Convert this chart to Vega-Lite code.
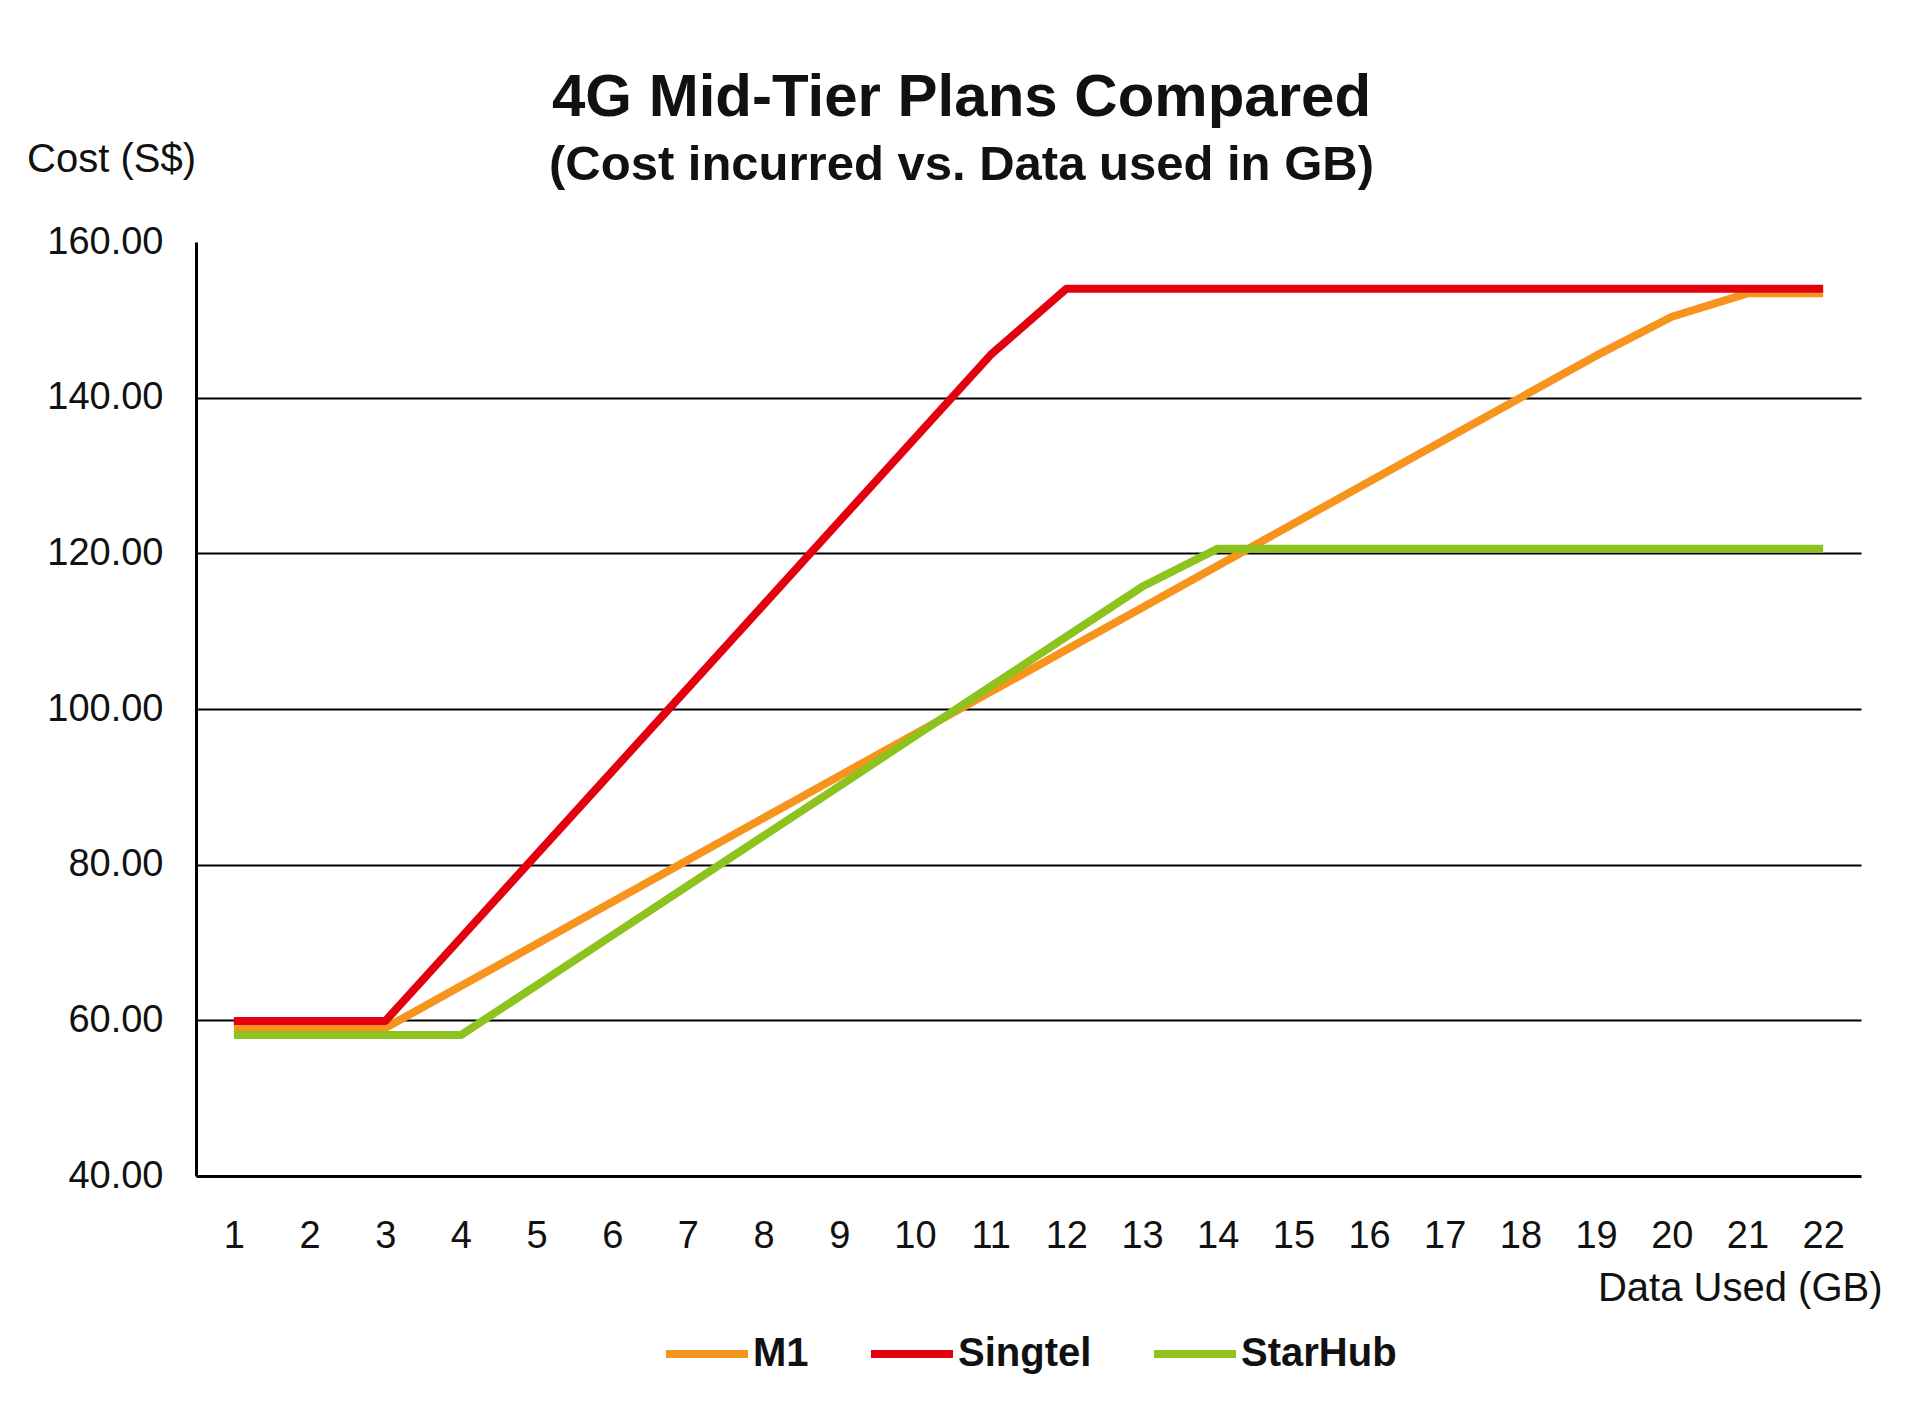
{
  "$schema": "https://vega.github.io/schema/vega-lite/v6.json",
  "width": 1665,
  "height": 934,
  "autosize": {"type": "none"},
  "padding": {"left": 196, "top": 242, "right": 59, "bottom": 240},
  "background": "white",
  "config": {"view": {"stroke": null}, "font": "Liberation Sans"},
  "title": {
    "text": "4G Mid-Tier Plans Compared",
    "subtitle": "(Cost incurred vs. Data used in GB)",
    "font": "Liberation Sans",
    "fontSize": 60,
    "fontWeight": "bold",
    "color": "#111111",
    "subtitleFont": "Liberation Sans",
    "subtitleFontSize": 49,
    "subtitleFontWeight": "bold",
    "subtitleColor": "#111111",
    "subtitlePadding": 12,
    "anchor": "middle",
    "frame": "group",
    "dx": -67,
    "offset": -52
  },
  "data": {
    "values": [
      {"gb": 1, "plan": "M1", "cost": 59.0},
      {"gb": 2, "plan": "M1", "cost": 59.0},
      {"gb": 3, "plan": "M1", "cost": 59.0},
      {"gb": 4, "plan": "M1", "cost": 64.4},
      {"gb": 5, "plan": "M1", "cost": 69.8},
      {"gb": 6, "plan": "M1", "cost": 75.2},
      {"gb": 7, "plan": "M1", "cost": 80.6},
      {"gb": 8, "plan": "M1", "cost": 86.0},
      {"gb": 9, "plan": "M1", "cost": 91.4},
      {"gb": 10, "plan": "M1", "cost": 96.8},
      {"gb": 11, "plan": "M1", "cost": 102.2},
      {"gb": 12, "plan": "M1", "cost": 107.6},
      {"gb": 13, "plan": "M1", "cost": 113.0},
      {"gb": 14, "plan": "M1", "cost": 118.4},
      {"gb": 15, "plan": "M1", "cost": 123.8},
      {"gb": 16, "plan": "M1", "cost": 129.2},
      {"gb": 17, "plan": "M1", "cost": 134.6},
      {"gb": 18, "plan": "M1", "cost": 140.0},
      {"gb": 19, "plan": "M1", "cost": 145.4},
      {"gb": 20, "plan": "M1", "cost": 150.4},
      {"gb": 21, "plan": "M1", "cost": 153.4},
      {"gb": 22, "plan": "M1", "cost": 153.4},
      {"gb": 1, "plan": "Singtel", "cost": 59.9},
      {"gb": 2, "plan": "Singtel", "cost": 59.9},
      {"gb": 3, "plan": "Singtel", "cost": 59.9},
      {"gb": 4, "plan": "Singtel", "cost": 70.6},
      {"gb": 5, "plan": "Singtel", "cost": 81.3},
      {"gb": 6, "plan": "Singtel", "cost": 92.0},
      {"gb": 7, "plan": "Singtel", "cost": 102.7},
      {"gb": 8, "plan": "Singtel", "cost": 113.4},
      {"gb": 9, "plan": "Singtel", "cost": 124.1},
      {"gb": 10, "plan": "Singtel", "cost": 134.8},
      {"gb": 11, "plan": "Singtel", "cost": 145.5},
      {"gb": 12, "plan": "Singtel", "cost": 154.0},
      {"gb": 13, "plan": "Singtel", "cost": 154.0},
      {"gb": 14, "plan": "Singtel", "cost": 154.0},
      {"gb": 15, "plan": "Singtel", "cost": 154.0},
      {"gb": 16, "plan": "Singtel", "cost": 154.0},
      {"gb": 17, "plan": "Singtel", "cost": 154.0},
      {"gb": 18, "plan": "Singtel", "cost": 154.0},
      {"gb": 19, "plan": "Singtel", "cost": 154.0},
      {"gb": 20, "plan": "Singtel", "cost": 154.0},
      {"gb": 21, "plan": "Singtel", "cost": 154.0},
      {"gb": 22, "plan": "Singtel", "cost": 154.0},
      {"gb": 1, "plan": "StarHub", "cost": 58.1},
      {"gb": 2, "plan": "StarHub", "cost": 58.1},
      {"gb": 3, "plan": "StarHub", "cost": 58.1},
      {"gb": 4, "plan": "StarHub", "cost": 58.1},
      {"gb": 5, "plan": "StarHub", "cost": 64.5},
      {"gb": 6, "plan": "StarHub", "cost": 70.9},
      {"gb": 7, "plan": "StarHub", "cost": 77.3},
      {"gb": 8, "plan": "StarHub", "cost": 83.7},
      {"gb": 9, "plan": "StarHub", "cost": 90.1},
      {"gb": 10, "plan": "StarHub", "cost": 96.5},
      {"gb": 11, "plan": "StarHub", "cost": 102.9},
      {"gb": 12, "plan": "StarHub", "cost": 109.3},
      {"gb": 13, "plan": "StarHub", "cost": 115.7},
      {"gb": 14, "plan": "StarHub", "cost": 120.6},
      {"gb": 15, "plan": "StarHub", "cost": 120.6},
      {"gb": 16, "plan": "StarHub", "cost": 120.6},
      {"gb": 17, "plan": "StarHub", "cost": 120.6},
      {"gb": 18, "plan": "StarHub", "cost": 120.6},
      {"gb": 19, "plan": "StarHub", "cost": 120.6},
      {"gb": 20, "plan": "StarHub", "cost": 120.6},
      {"gb": 21, "plan": "StarHub", "cost": 120.6},
      {"gb": 22, "plan": "StarHub", "cost": 120.6}
    ]
  },
  "mark": {"type": "line", "strokeWidth": 8, "strokeJoin": "round"},
  "encoding": {
    "x": {
      "field": "gb",
      "type": "quantitative",
      "scale": {"domain": [0.5, 22.5], "nice": false, "zero": false},
      "axis": {
        "title": "Data Used (GB)",
        "values": [1,2,3,4,5,6,7,8,9,10,11,12,13,14,15,16,17,18,19,20,21,22],
        "format": "d",
        "grid": false,
        "ticks": false,
        "tickSize": 0,
        "domainColor": "black",
        "domainWidth": 3,
        "labelFont": "Liberation Sans",
        "labelFontSize": 38,
        "labelColor": "#111111",
        "labelBaseline": "middle",
        "labelPadding": 60,
        "labelFlush": false,
        "labelOverlap": false,
        "titleFont": "Liberation Sans",
        "titleFontSize": 40,
        "titleFontWeight": "normal",
        "titleColor": "#111111",
        "titleAlign": "right",
        "titleBaseline": "middle",
        "titleX": 1686,
        "titleY": 112
      }
    },
    "y": {
      "field": "cost",
      "type": "quantitative",
      "scale": {"domain": [40, 160], "nice": false, "zero": false},
      "axis": {
        "title": "Cost (S$)",
        "values": [40, 60, 80, 100, 120, 140, 160],
        "format": ".2f",
        "ticks": false,
        "tickSize": 0,
        "domainColor": "black",
        "domainWidth": 3,
        "grid": true,
        "gridColor": "black",
        "gridWidth": 2,
        "gridOpacity": {"condition": {"test": "datum.value <= 40 || datum.value >= 160", "value": 0}, "value": 1},
        "labelFont": "Liberation Sans",
        "labelFontSize": 38,
        "labelColor": "#111111",
        "labelPadding": 33,
        "labelFlush": false,
        "labelOverlap": false,
        "titleFont": "Liberation Sans",
        "titleFontSize": 40,
        "titleFontWeight": "normal",
        "titleColor": "#111111",
        "titleAngle": 0,
        "titleAlign": "center",
        "titleBaseline": "middle",
        "titleX": -85,
        "titleY": -83
      }
    },
    "color": {
      "field": "plan",
      "type": "nominal",
      "scale": {"domain": ["M1", "Singtel", "StarHub"], "range": ["#F7941D", "#E3000F", "#8DC21F"]},
      "legend": {
        "title": null,
        "orient": "none",
        "legendX": 466,
        "legendY": 1067,
        "direction": "horizontal",
        "symbolType": "stroke",
        "symbolSize": 6724,
        "symbolStrokeWidth": 8,
        "labelFont": "Liberation Sans",
        "labelFontSize": 40,
        "labelFontWeight": "bold",
        "labelColor": "#111111",
        "labelOffset": 1,
        "columnPadding": 46,
        "padding": 0
      }
    }
  }
}
